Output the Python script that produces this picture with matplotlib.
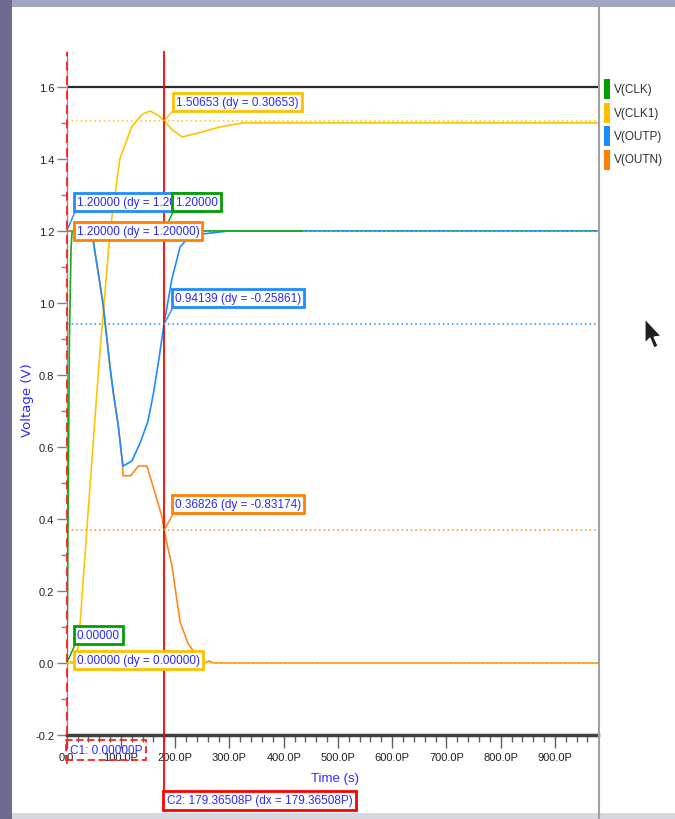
import matplotlib
matplotlib.use("Agg")
import matplotlib.pyplot as plt
from matplotlib.patches import Rectangle, Polygon
from matplotlib.lines import Line2D
from matplotlib.ticker import MultipleLocator, FuncFormatter

# waveform samples, time in ps, voltage in V
clk_t = [0, 1, 3, 5, 8, 10, 434]
clk_v = [0, 0.1, 0.5, 0.9, 1.15, 1.2, 1.2]

clk1_t = [0, 15, 22, 28, 39, 60, 80, 98, 120, 140, 154, 170, 179.365, 195, 213, 250, 283, 325, 980]
clk1_v = [0, 0, 0.05, 0.18, 0.41, 0.84, 1.2, 1.4, 1.49, 1.525, 1.533, 1.52, 1.50653, 1.48, 1.461,
          1.475, 1.489, 1.5, 1.5]

outp_t = [0, 44, 49, 67, 80, 86, 95, 102, 104, 120, 135, 150, 160, 170, 179.365, 194, 209, 222,
          240, 270, 300, 980]
outp_v = [1.2, 1.2, 1.172, 0.997, 0.82, 0.75, 0.66, 0.567, 0.547, 0.561, 0.61, 0.672, 0.75, 0.844,
          0.94139, 1.067, 1.155, 1.178, 1.19, 1.195, 1.2, 1.2]

outn_t = [0, 44, 49, 67, 80, 86, 95, 102, 104, 118, 132, 148, 166, 176, 179.365, 194, 209, 224,
          245, 255, 262, 270, 980]
outn_v = [1.2, 1.2, 1.172, 0.997, 0.82, 0.75, 0.66, 0.567, 0.52, 0.52, 0.547, 0.547, 0.455, 0.405,
          0.36826, 0.27, 0.114, 0.053, 0.01, 0.0, 0.006, 0.0, 0.0]

names = ["V(CLK)", "V(CLK1)", "V(OUTP)", "V(OUTN)"]
colors = ["#1aa81a", "#ffc400", "#1e8cff", "#ff8a1a"]
box_colors = ["#00a000", "#ffc000", "#1e8cff", "#ff8000"]

c1_time = 0.0
c2_time = 179.36508
ref_level = 1.6

# cursor readouts: (text, trace index, cursor time, value, box offset in px)
markers = [
    ("1.20000 (dy = 1.20000)", 2, c1_time, 1.2, (7, 20)),
    ("1.20000", 0, c2_time, 1.2, (8, 20)),
    ("1.20000 (dy = 1.20000)", 3, c1_time, 1.2, (7, -9)),
    ("1.50653 (dy = 0.30653)", 1, c2_time, 1.50653, (9, 10)),
    ("0.94139 (dy = -0.25861)", 2, c2_time, 0.94139, (8, 17)),
    ("0.36826 (dy = -0.83174)", 3, c2_time, 0.36826, (8, 17)),
    ("0.00000", 0, c1_time, 0.0, (7, 19)),
    ("0.00000 (dy = 0.00000)", 1, c1_time, 0.0, (7, -6)),
]
# horizontal dotted lines through the cursor readouts
ref_lines = [(1.2, 0), (1.50653, 1), (0.94139, 2), (0.36826, 3), (0.0, 1)]

W, H = 675, 820
TXT = "#2a2aff"
FONT = "Liberation Sans"


def fx(x):
    return x / W


def fy(y):
    return 1 - y / H


fig = plt.figure(figsize=(W / 100, H / 100), dpi=100)
fig.patch.set_facecolor("white")

# window frame
fig.add_artist(Rectangle((0, 0), fx(12), 1, transform=fig.transFigure, fc="#6c6c90", ec="none"))
fig.add_artist(Rectangle((fx(12), fy(8)), 1, fy(0) - fy(8), transform=fig.transFigure,
                         fc="#a4a4c4", ec="none"))
fig.add_artist(Rectangle((fx(12), 0), 1, fy(814), transform=fig.transFigure, fc="#d8d8e0", ec="none"))
fig.add_artist(Line2D([fx(599), fx(599)], [0, fy(8)], transform=fig.transFigure, color="#a0a0a0", lw=1.5))

ax = fig.add_axes([fx(66.7), fy(736), fx(598) - fx(66.7), fy(53) - fy(736)])
ax.set_xlim(0, 979.4)
ax.set_ylim(-0.2, 1.697)
ax.set_facecolor("white")

for s in ["top", "right"]:
    ax.spines[s].set_visible(False)
ax.spines["left"].set_color("#909090")
ax.spines["left"].set_linewidth(1)
ax.spines["bottom"].set_color("#404040")
ax.spines["bottom"].set_linewidth(2.5)

ax.yaxis.set_major_locator(MultipleLocator(0.2))
ax.yaxis.set_minor_locator(MultipleLocator(0.1))
ax.xaxis.set_major_locator(MultipleLocator(100))
ax.xaxis.set_minor_locator(MultipleLocator(20))
ax.yaxis.set_major_formatter(FuncFormatter(lambda v, p: f"{v:.1f}"))
ax.xaxis.set_major_formatter(FuncFormatter(lambda v, p: "0.0" if abs(v) < 1e-9 else f"{v:.1f}P"))
ax.tick_params(axis="y", which="major", length=7, width=1, color="#808080", pad=2,
               labelsize=8, labelcolor="#202020")
ax.tick_params(axis="y", which="minor", length=4, width=1, color="#808080")
ax.tick_params(axis="x", which="major", length=9, width=1, color="#606060", pad=3,
               labelsize=8, labelcolor="#202020")
ax.tick_params(axis="x", which="minor", length=5, width=1, color="#606060")
for lab in ax.get_xticklabels() + ax.get_yticklabels():
    lab.set_family(FONT)

ax.axhline(ref_level, color="#2a2a2a", lw=1.6, zorder=2)

traces = [(clk_t, clk_v), (clk1_t, clk1_v), (outp_t, outp_v), (outn_t, outn_v)]
draw_order = [1, 3, 2, 0]
for i in draw_order:
    t, v = traces[i]
    ax.plot(t, v, color=colors[i], lw=1.2, zorder=3)

for level, ci in ref_lines:
    ax.axhline(level, color=colors[ci], lw=1.1, ls=(0, (1, 2)), zorder=4)

# cursors
ax.axvline(c1_time, ymin=-0.043, ymax=1, color="#ff2020", lw=1.3, ls=(0, (5, 3)),
           clip_on=False, zorder=5)
ax.axvline(c2_time, ymin=-0.08, ymax=1, color="#ff0000", lw=1.3, clip_on=False, zorder=5)

fs = 8.5
pad_px = 0.25 * fs * 100 / 72
for k, (text, ci, t0, val, (ox, oy)) in enumerate(markers):
    # leader line leaves the box from the corner nearest the point
    if oy > 0:
        rel = (0, 0)
    elif oy < -10:
        rel = (0, 1)
    else:
        rel = (0, 0.5)
    ax.annotate(text, xy=(t0, val), xytext=(ox + pad_px, oy + pad_px), textcoords="offset pixels",
                ha="left", va="bottom", fontsize=fs, family=FONT, color=TXT,
                bbox=dict(boxstyle="square,pad=0.25", fc="white", ec=box_colors[ci], lw=2),
                arrowprops=dict(arrowstyle="-", color=box_colors[ci], lw=1, shrinkA=0, shrinkB=0,
                                relpos=rel),
                annotation_clip=False, zorder=10 + k)

# cursor time readouts
fig.text(fx(66.7) + 3 / W, fy(751), "C1: 0.00000P", fontsize=fs, family=FONT, color=TXT,
         ha="left", va="center",
         bbox=dict(boxstyle="square,pad=0.3", fc="none", ec="#ff2020", lw=1.3, ls=(0, (4, 2))))
fig.text(fx(167), fy(801.5), f"C2: {c2_time:.5f}P (dx = {c2_time - c1_time:.5f}P)", fontsize=fs,
         family=FONT, color=TXT, ha="left", va="center",
         bbox=dict(boxstyle="square,pad=0.3", fc="white", ec="#ff0000", lw=2))

fig.text(fx(335), fy(779), "Time (s)", fontsize=9.5, family=FONT, color=TXT, ha="center", va="center")
fig.text(fx(27), fy(400), "Voltage (V)", fontsize=9.5, color=TXT, rotation=90, ha="center", va="center")

# legend panel
for i, name in enumerate(names):
    yc = 90 + i * 23.5
    fig.add_artist(Rectangle((fx(604), fy(yc + 10)), 6 / W, 20 / H, transform=fig.transFigure,
                             fc=box_colors[i], ec="none"))
    fig.text(fx(614), fy(yc), name, fontsize=8.5, family=FONT, color="#303030", ha="left", va="center")

# mouse pointer
pts = [(645, 320), (645, 344), (650, 339), (654, 349), (658, 347), (654, 338), (661, 337)]
fig.add_artist(Polygon([(fx(x), fy(y)) for x, y in pts], closed=True, transform=fig.transFigure,
                       fc="#202020", ec="white", lw=0.8))

fig.savefig("out.png", dpi=100)
